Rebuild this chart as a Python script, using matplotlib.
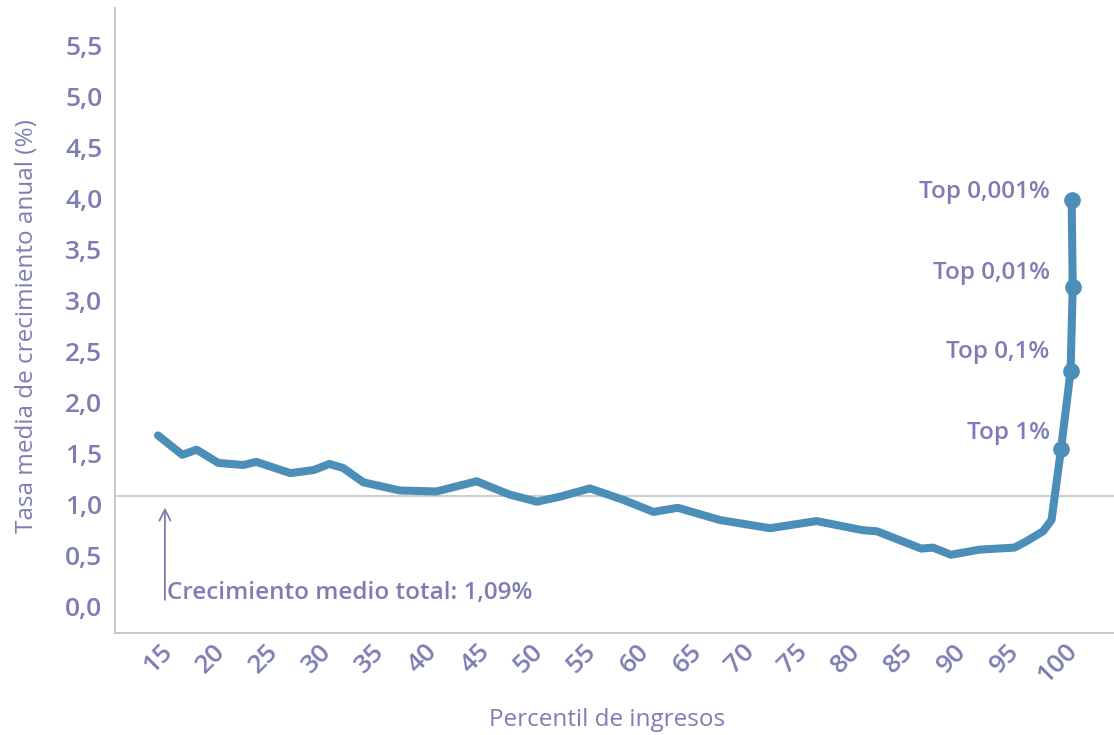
import matplotlib
matplotlib.use("Agg")
import matplotlib.pyplot as plt

# datos
percentil = [15, 17.3, 18.65, 20.7, 23.05, 24.3, 27.5, 29.7, 31.2, 32.5, 34.4,
             37.85, 41.3, 45.1, 48.2, 50.8, 53.0, 55.8, 58.9, 61.8, 64.1, 68.1,
             72.8, 75.3, 77.2, 81.6, 82.9, 87.1, 88.2, 89.9, 92.6, 95.9, 97.0,
             98.6, 99.4]
tasa = [1.68, 1.49, 1.54, 1.41, 1.39, 1.42, 1.31, 1.34, 1.40, 1.36, 1.22,
        1.14, 1.13, 1.23, 1.10, 1.03, 1.08, 1.16, 1.05, 0.93, 0.97, 0.85,
        0.77, 0.81, 0.84, 0.75, 0.74, 0.57, 0.58, 0.51, 0.56, 0.58, 0.64,
        0.74, 0.85]

top_x = [100.3, 101.2, 101.4, 101.3]
top_y = [1.55, 2.31, 3.13, 3.99]
top_labels = ["Top 1%", "Top 0,1%", "Top 0,01%", "Top 0,001%"]
top_label_y = [1.70, 2.50, 3.27, 4.07]

media_total = 1.09
xticks = list(range(15, 101, 5))
yticks = [i * 0.5 for i in range(12)]

txt = "#7d7db4"
azul = "#4b8fb8"
gris = "#c4c4c4"

plt.rcParams['font.family'] = ['Open Sans', 'DejaVu Sans']

fig = plt.figure(figsize=(11.14, 7.35), dpi=100)
ax = fig.add_axes([0.1032, 0.1384, 0.8968, 0.8507])

ax.plot(percentil + top_x, tasa + top_y, color=azul, lw=5.8,
        solid_joinstyle='round', solid_capstyle='round', zorder=3)
ax.plot(top_x, top_y, 'o', color=azul, ms=11, zorder=4)

for lab, ly in zip(top_labels, top_label_y):
    ax.text(99.23, ly, lab, ha='right', va='center', fontsize=17.5,
            color=txt, fontweight='semibold')

ax.axhline(media_total, color=gris, lw=1.2, zorder=1)
ax.annotate("", xy=(15.66, 1.0), xytext=(15.66, 0.04),
            arrowprops=dict(arrowstyle='->,head_length=0.8,head_width=0.4',
                            color=txt, lw=1.3))
ax.text(15.85, 0.13, "Crecimiento medio total: 1,09%", ha='left', va='center',
        fontsize=17.5, color=txt, fontweight='semibold')

ax.set_xlim(10.94, 105.3)
ax.set_ylim(-0.26, 5.87)
ax.set_xticks(xticks)
ax.set_xticklabels([str(v) for v in xticks], rotation=45, ha='center',
                   fontweight='semibold')
ax.set_yticks(yticks)
ax.set_yticklabels([f"{v:.1f}".replace(".", ",") for v in yticks],
                   fontweight='semibold')
ax.tick_params(axis='both', length=0, labelsize=19, colors=txt)
ax.tick_params(axis='y', pad=9)
ax.tick_params(axis='x', pad=4)

for s in ['top', 'right']:
    ax.spines[s].set_visible(False)
for s in ['left', 'bottom']:
    ax.spines[s].set_color(gris)
    ax.spines[s].set_linewidth(1.3)

fig.text(0.545, 0.021, "Percentil de ingresos", ha='center', va='center',
         fontsize=17.5, color=txt)
fig.text(0.024, 0.556, "Tasa media de crecimiento anual (%)", ha='center',
         va='center', rotation=90, fontsize=17.5, color=txt)

fig.savefig("out.png", dpi=100)
